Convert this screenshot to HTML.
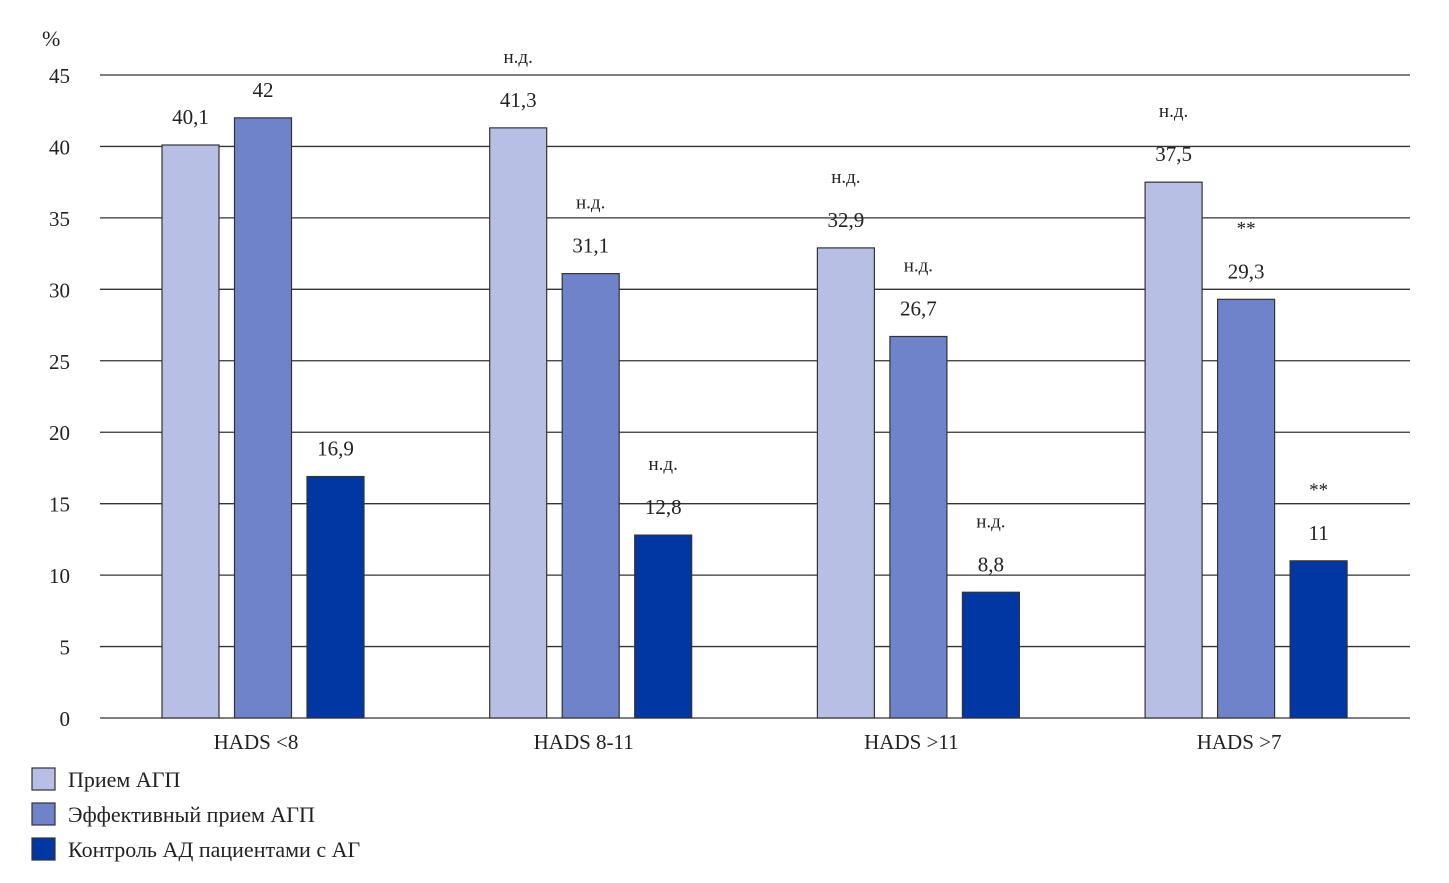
<!DOCTYPE html>
<html><head><meta charset="utf-8"><style>
body{margin:0;background:#fff;}
svg text{font-family:"Liberation Serif",serif;fill:#222;}
</style></head><body>
<svg id="c" width="1449" height="878" xmlns="http://www.w3.org/2000/svg"></svg>
<script>
const categories=["HADS <8","HADS 8-11","HADS >11","HADS >7"];
const seriesNames=["Прием АГП","Эффективный прием АГП","Контроль АД пациентами с АГ"];
const s1=[40.1,41.3,32.9,37.5];
const s2=[42,31.1,26.7,29.3];
const s3=[16.9,12.8,8.8,11];
const labels1=["40,1","41,3","32,9","37,5"];
const labels2=["42","31,1","26,7","29,3"];
const labels3=["16,9","12,8","8,8","11"];
const notes1=["","н.д.","н.д.","н.д."];
const notes2=["","н.д.","н.д.","**"];
const notes3=["","н.д.","н.д.","**"];
const yTicks=[0,5,10,15,20,25,30,35,40,45];
const colors=["#b7bfe4","#6f83cb","#0037a2"];
const svg=document.getElementById('c');
const NS="http://www.w3.org/2000/svg";
const y0=718,yTop=75,yMax=45;
const y=v=>y0-(y0-yTop)*v/yMax;
const groupX=i=>162+i*327.7;
function mk(t,a,txt){const e=document.createElementNS(NS,t);for(const k in a)e.setAttribute(k,a[k]);if(txt!==undefined)e.textContent=txt;svg.appendChild(e);return e;}
let e=mk('text',{x:42,y:46,'font-size':22},'%');


yTicks.forEach(t=>{
  const l=mk('line',{x1:100,x2:1410,y1:y(t),y2:y(t),stroke:'#333','stroke-width':1.3});
  
  
  const tx=mk('text',{x:70,y:y(t)+8,'font-size':21,'text-anchor':'end'},String(t));
  
  
});
const series=[s1,s2,s3],labs=[labels1,labels2,labels3],notes=[notes1,notes2,notes3];
categories.forEach((c,i)=>{
  for(let s=0;s<3;s++){
    const x=groupX(i)+s*72.5,v=series[s][i];
    const r=mk('rect',{x:x,y:y(v),width:57,height:y0-y(v),fill:colors[s],stroke:'#333','stroke-width':1.2});
    
    
    const t=mk('text',{x:x+28.5,y:y(v)-21,'font-size':21,'text-anchor':'middle'},labs[s][i]);
    
    
    if(notes[s][i]){
      const n=mk('text',{x:x+28.5,y:y(v)-65,'font-size':19,'text-anchor':'middle'},notes[s][i]);
      
      
    }
  }
  const ct=mk('text',{x:groupX(i)+94,y:749,'font-size':21,'text-anchor':'middle'},c);
  
  
});
seriesNames.forEach((n,s)=>{
  const yy=768+s*35;
  const r=mk('rect',{x:32,y:yy,width:23,height:22,fill:colors[s],stroke:'#333','stroke-width':1.2});
  
  
  const t=mk('text',{x:68,y:yy+19,'font-size':22},n);
  
  
});
</script>
</body></html>
